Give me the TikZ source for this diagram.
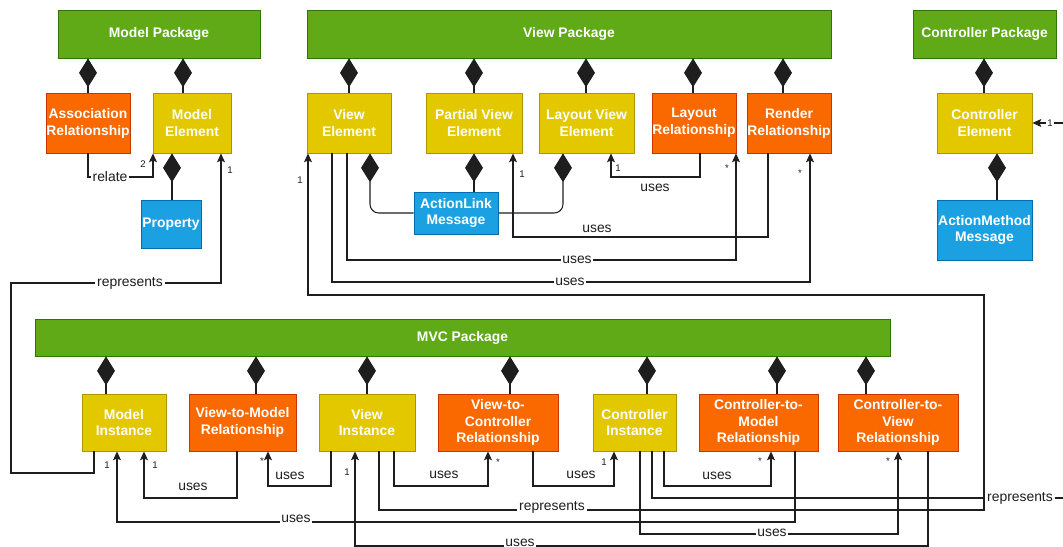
\documentclass[tikz,border=0pt]{standalone}
\usepackage{fontspec}
\setmainfont{Liberation Sans}
\usetikzlibrary{arrows.meta}
\definecolor{pgreen}{HTML}{60A917}
\definecolor{pgreenD}{HTML}{2D7600}
\definecolor{porange}{HTML}{FA6800}
\definecolor{porangeD}{HTML}{C73500}
\definecolor{pyellow}{HTML}{E3C800}
\definecolor{pyellowD}{HTML}{B09500}
\definecolor{pblue}{HTML}{1BA1E2}
\definecolor{pblueD}{HTML}{006EAF}
\definecolor{ink}{HTML}{1E1E1E}
\begin{document}
\begin{tikzpicture}[x=0.02cm,y=-0.02cm,
  elem/.style={draw, line width=0.5pt, text=white, font=\bfseries\fontsize{7.9}{9.6}\selectfont, align=center, inner sep=0pt},
  sz/.style 2 args={minimum width=#1*0.02cm, minimum height=#2*0.02cm},
  pkg/.style={elem, fill=pgreen, draw=pgreenD},
  ybox/.style={elem, fill=pyellow, draw=pyellowD},
  obox/.style={elem, fill=porange, draw=porangeD},
  bbox/.style={elem, fill=pblue, draw=pblueD},
  conn/.style={draw=ink, line width=0.6pt, -{Stealth[length=5pt,width=4.5pt,inset=1pt]}},
  comp/.style={draw=ink, line width=0.6pt, -{Diamond[length=16.4pt,width=10.2pt]}},
  lbl/.style={font=\fontsize{7.9}{9}\selectfont, text=ink, inner sep=1pt},
  lblw/.style={lbl, fill=white},
  mult/.style={font=\fontsize{5.5}{6}\selectfont, text=ink, inner sep=0.5pt}
]
\useasboundingbox (0,0) rectangle (1063,547);
\begin{scope}
\clip (0,0) rectangle (1063,547);
% packages
\node[pkg, sz={202}{48}] (mp) at (159,34) {Model Package};
\node[pkg, sz={524}{48}] (vp) at (569,34) {View Package};
\node[pkg, sz={143}{48}] (cp) at (984.5,34) {Controller Package};
\node[pkg, sz={855}{37}] (mvc) at (462.5,337.5) {MVC Package};
% model
\node[obox, sz={84}{60}] (ar) at (88,123) {Association\\Relationship};
\node[ybox, sz={78}{60}] (me) at (192,123) {Model\\Element};
\node[bbox, sz={60}{48}] (prop) at (171,224) {Property};
% view
\node[ybox, sz={84}{60}] (ve) at (349,123) {View\\Element};
\node[ybox, sz={96}{60}] (pve) at (474,123) {Partial View\\Element};
\node[ybox, sz={95}{60}] (lve) at (586.5,123) {Layout View\\Element};
\node[obox, sz={84}{60}] (lr) at (694,123) {Layout\\Relationship};
\node[obox, sz={84}{60}] (rr) at (789,123) {Render\\Relationship};
\node[bbox, sz={84}{42}] (alm) at (456,213) {ActionLink\\Message};
% controller
\node[ybox, sz={95}{60}] (ce) at (984.5,123) {Controller\\Element};
\node[bbox, sz={95}{60}] (amm) at (984.5,230) {ActionMethod\\Message};
% mvc
\node[ybox, sz={84}{57}] (mi) at (124,422.5) {Model\\Instance};
\node[obox, sz={107}{57}] (v2m) at (242.5,422.5) {View-to-Model\\Relationship};
\node[ybox, sz={96}{57}] (vi) at (367,422.5) {View\\Instance};
\node[obox, sz={120}{57}] (v2c) at (498,422.5) {View-to-\\Controller\\Relationship};
\node[ybox, sz={83}{57}] (ci) at (634.5,422.5) {Controller\\Instance};
\node[obox, sz={119}{57}] (c2m) at (758.5,422.5) {Controller-to-\\Model\\Relationship};
\node[obox, sz={120}{57}] (c2v) at (898,422.5) {Controller-to-\\View\\Relationship};
% composition diamonds
\draw[comp] (88,0 |- ar.north) -- (88,0 |- mp.south);
\draw[comp] (183,0 |- me.north) -- (183,0 |- mp.south);
\draw[comp] (172,0 |- prop.north) -- (172,0 |- me.south);
\draw[comp] (349,0 |- ve.north) -- (349,0 |- vp.south);
\draw[comp] (474,0 |- pve.north) -- (474,0 |- vp.south);
\draw[comp] (586,0 |- lve.north) -- (586,0 |- vp.south);
\draw[comp] (693,0 |- lr.north) -- (693,0 |- vp.south);
\draw[comp] (783,0 |- rr.north) -- (783,0 |- vp.south);
\draw[comp] (984,0 |- ce.north) -- (984,0 |- cp.south);
\draw[comp] (997,0 |- amm.north) -- (997,0 |- ce.south);
\draw[comp] (474,0 |- alm.north) -- (474,0 |- pve.south);
\draw[comp, rounded corners=5pt] (alm.west) -| (370,0 |- ve.south);
\draw[comp, rounded corners=5pt] (alm.east) -| (563,0 |- lve.south);
\draw[comp] (106,0 |- mi.north) -- (106,0 |- mvc.south);
\draw[comp] (256,0 |- v2m.north) -- (256,0 |- mvc.south);
\draw[comp] (367,0 |- vi.north) -- (367,0 |- mvc.south);
\draw[comp] (510,0 |- v2c.north) -- (510,0 |- mvc.south);
\draw[comp] (647,0 |- ci.north) -- (647,0 |- mvc.south);
\draw[comp] (777,0 |- c2m.north) -- (777,0 |- mvc.south);
\draw[comp] (866,0 |- c2v.north) -- (866,0 |- mvc.south);
% associations
\draw[conn] (88,0 |- ar.south) -- (88,177) -- (153,177) -- (153,0 |- me.south);
\draw[conn] (94,0 |- mi.south) -- (94,473) -- (11,473) -- (11,283) -- (221,283) -- (221,0 |- me.south);
\draw[conn] (700,0 |- lr.south) -- (700,177) -- (611,177) -- (611,0 |- lve.south);
\draw[conn] (768,0 |- rr.south) -- (768,237) -- (513,237) -- (513,0 |- pve.south);
\draw[conn] (347,0 |- ve.south) -- (347,260) -- (736,260) -- (736,0 |- lr.south);
\draw[conn] (332,0 |- ve.south) -- (332,282) -- (810,282) -- (810,0 |- rr.south);
\draw[conn] (379,0 |- vi.south) -- (379,510) -- (984,510) -- (984,295) -- (308,295) -- (308,0 |- ve.south);
\draw[conn] (237,0 |- v2m.south) -- (237,498) -- (144,498) -- (144,0 |- mi.south);
\draw[conn] (331,0 |- vi.south) -- (331,486) -- (268,486) -- (268,0 |- v2m.south);
\draw[conn] (394,0 |- vi.south) -- (394,486) -- (488,486) -- (488,0 |- v2c.south);
\draw[conn] (533,0 |- v2c.south) -- (533,486) -- (614,486) -- (614,0 |- ci.south);
\draw[conn] (664,0 |- ci.south) -- (664,486) -- (771,486) -- (771,0 |- c2m.south);
\draw[conn] (652,0 |- ci.south) -- (652,498) -- (1075,498) -- (1075,0 |- ce.east) -- (ce.east);
\draw[conn] (795,0 |- c2m.south) -- (795,522) -- (117,522) -- (117,0 |- mi.south);
\draw[conn] (640,0 |- ci.south) -- (640,534) -- (898,534) -- (898,0 |- c2v.south);
\draw[conn] (928,0 |- c2v.south) -- (928,546) -- (355,546) -- (355,0 |- vi.south);
% labels
\node[lblw] (t1) at (110,177) {relate};
\node[mult] (m1) at (143,164) {2};
\node[lblw] (t2) at (130,283) {represents};
\node[mult] (m2) at (230,170) {1};
\node[lbl] (t3) at (655,188) {uses};
\node[mult] (m3) at (618,168) {1};
\node[lbl] (t4) at (597,229) {uses};
\node[mult] (m4) at (522,174) {1};
\node[lblw] (t5) at (577,260) {uses};
\node[mult] (m5) at (727,168) {*};
\node[lblw] (t6) at (570,282) {uses};
\node[mult] (m6) at (800,173) {*};
\node[lblw] (t7) at (552,507) {represents};
\node[mult] (m7) at (300,180) {1};
\node[lbl] (t8) at (193,487) {uses};
\node[mult] (m8) at (155,465) {1};
\node[lbl] (t9) at (290,476) {uses};
\node[mult] (m9) at (262,461) {*};
\node[lbl] (t10) at (444,475) {uses};
\node[mult] (m10) at (498,462) {*};
\node[lbl] (t11) at (581,475) {uses};
\node[mult] (m11) at (604,462) {1};
\node[lbl] (t12) at (717,476) {uses};
\node[mult] (m12) at (760,461) {*};
\node[lblw] (t13) at (1020,498) {represents};
\node[mult, fill=white] (m13) at (1050,123) {1};
\node[lblw] (t14) at (296,519) {uses};
\node[mult] (m14) at (107,465) {1};
\node[lblw] (t15) at (772,533) {uses};
\node[mult] (m15) at (888,461) {*};
\node[lblw] (t16) at (520,543) {uses};
\node[mult] (m16) at (347,472) {1};
\end{scope}
\end{tikzpicture}
\end{document}
